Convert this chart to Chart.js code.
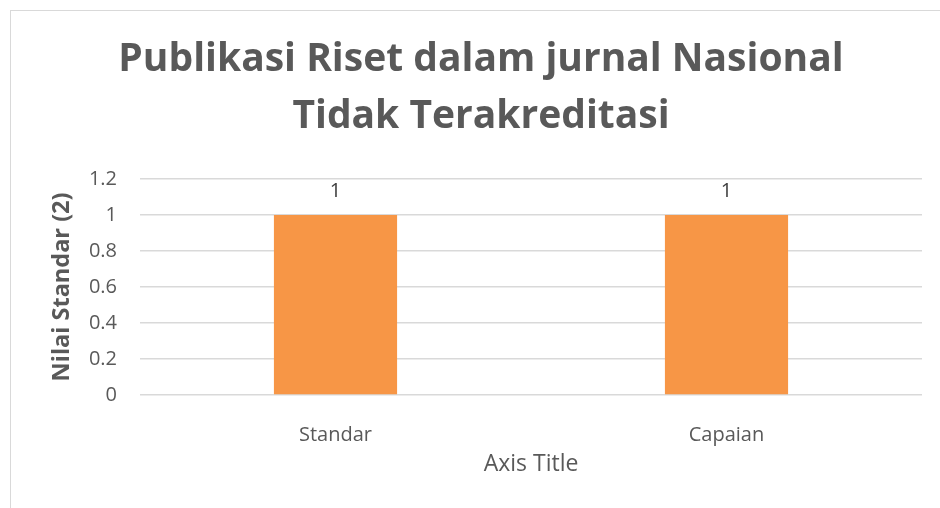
<!DOCTYPE html>
<html lang="id">
<head>
    <meta charset="UTF-8">
    <title>Publikasi Riset dalam jurnal Nasional Tidak Terakreditasi</title>
    <script src="https://cdn.jsdelivr.net/npm/chart.js"></script>
    <style>
        html, body { margin: 0; padding: 0; background: #fff; overflow: hidden; width: 940px; height: 508px; }
        .frame { position: absolute; left: 10px; top: 10px; width: 960px; height: 520px; border: 1px solid #d9d9d9; }
        #riset { position: absolute; left: 29px; top: 0; }
    </style>
</head>
<body>
    <div class="frame">
        <canvas id="riset" width="882" height="497"></canvas>
    </div>

    <script>
        // data
        const categories = ['Standar', 'Capaian'];
        const values = [1, 1];
        const titleLines = ['Publikasi Riset dalam jurnal Nasional', 'Tidak Terakreditasi'];

        const textGray = '#595959';
        const font = '"Open Sans", "Liberation Sans", sans-serif';

        // value labels above each bar
        const barLabels = {
            id: 'barLabels',
            afterDatasetsDraw(chart) {
                const ctx = chart.ctx;
                const meta = chart.getDatasetMeta(0);
                ctx.save();
                ctx.font = '20px ' + font;
                ctx.fillStyle = '#404040';
                ctx.textAlign = 'center';
                ctx.textBaseline = 'middle';
                meta.data.forEach((bar, i) => {
                    ctx.fillText(String(values[i]), bar.x, bar.y - 24);
                });
                ctx.restore();
            }
        };

        const ctx = document.getElementById('riset').getContext('2d');
        new Chart(ctx, {
            type: 'bar',
            data: {
                labels: categories,
                datasets: [{
                    data: values,
                    backgroundColor: '#F79646',
                    borderWidth: 0,
                    barPercentage: 0.9,
                    categoryPercentage: 0.35
                }]
            },
            options: {
                responsive: false,
                animation: false,
                layout: { padding: 0 },
                plugins: {
                    legend: { display: false },
                    tooltip: { enabled: false },
                    title: {
                        display: true,
                        text: titleLines,
                        color: textGray,
                        font: { family: font, size: 39, weight: 'bold', lineHeight: 1.46 },
                        padding: { top: 20, bottom: 34 }
                    }
                },
                scales: {
                    x: {
                        grid: { display: false },
                        border: { display: false },
                        ticks: { color: textGray, font: { family: font, size: 20 }, padding: 20 },
                        title: {
                            display: true,
                            text: 'Axis Title',
                            color: textGray,
                            font: { family: font, size: 23 },
                            padding: { top: 0, bottom: 30 }
                        },
                        afterFit: s => { s.height = 113; }
                    },
                    y: {
                        min: 0,
                        max: 1.2,
                        ticks: {
                            stepSize: 0.2,
                            color: textGray,
                            font: { family: font, size: 20 },
                            padding: 23,
                            callback: v => String(Number(v.toFixed(1)))
                        },
                        grid: { color: '#d9d9d9', lineWidth: 1.5, drawTicks: false },
                        border: { display: false },
                        title: {
                            display: true,
                            text: 'Nilai Standar (2)',
                            color: textGray,
                            font: { family: font, size: 23.5, weight: 'bold' },
                            padding: { top: 8, bottom: 0 }
                        },
                        afterFit: s => { s.width = 100; }
                    }
                }
            },
            plugins: [barLabels]
        });
    </script>
</body>
</html>
